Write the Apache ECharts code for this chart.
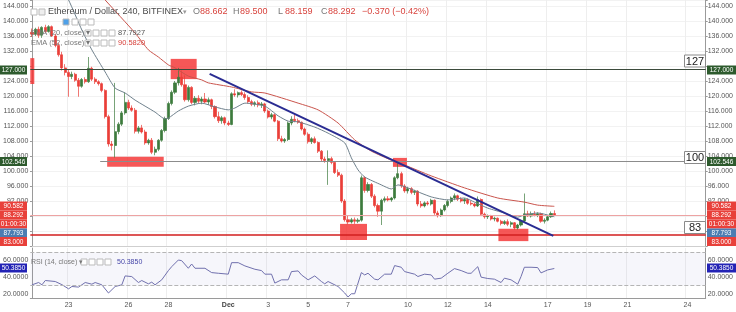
<!DOCTYPE html>
<html><head><meta charset="utf-8">
<script src="https://cdn.jsdelivr.net/npm/echarts@6/dist/echarts.min.js"></script>
<style>html,body{margin:0;padding:0;background:#fff}#c{width:736px;height:312px}</style>
</head><body><div id="c"></div>
<script>
// ---------- DATA (4h candles, ETH/USD Bitfinex, from Nov 21 04:00) ----------
const opens = [137.0,136.5,137.8,136.2,138.3,137.2,138.5,136.0,133.5,131.0,127.5,126.3,125.2,125.8,124.2,122.6,124.4,123.8,127.4,124.5,
123.8,123.3,121.5,114.5,107.2,106.8,110.5,112.5,115.5,118.3,116.8,116.2,110.6,111.5,110.4,107.5,108.2,105.0,105.8,108.2,
110.8,114.0,118.0,121.0,123.5,125.0,123.0,119.0,122.3,118.3,119.4,118.6,119.2,118.4,119.0,117.2,114.5,113.4,114.2,112.8,
112.4,120.6,120.3,120.9,120.4,119.6,118.5,117.8,118.2,117.6,117.9,116.0,114.4,115.0,113.3,108.6,108.0,108.4,112.8,113.8,
113.4,113.0,111.2,109.8,107.8,108.6,107.6,105.3,103.2,102.8,103.3,102.3,99.6,98.9,92.0,87.0,86.4,87.0,86.6,86.9,
98.2,94.8,96.4,93.3,90.8,89.3,92.2,92.6,92.3,92.8,98.2,99.3,96.0,94.7,95.3,94.3,94.6,91.2,90.7,91.5,
91.2,92.2,88.8,88.1,89.6,90.8,91.9,92.8,93.4,92.5,92.0,92.4,91.4,91.2,90.7,92.4,88.5,87.8,88.0,87.2,
87.4,86.6,86.0,86.5,85.8,86.2,84.8,85.6,86.7,88.6,88.0,88.5,88.2,88.6,86.6,86.9,87.8,88.662];
const highs = [138.0,138.2,138.5,138.6,139.0,138.9,138.8,136.6,134.2,131.8,128.5,127.0,126.5,126.2,124.8,124.8,125.0,130.4,127.8,125.0,
124.2,123.6,121.8,115.0,108.0,123.5,113.0,116.0,121.0,119.0,117.5,116.8,112.0,112.3,111.0,108.6,108.8,106.5,108.5,111.2,
114.5,118.5,121.5,124.0,127.5,126.8,125.5,122.8,122.6,120.0,120.2,119.8,120.8,119.6,119.3,117.5,115.8,114.7,114.5,113.4,
121.0,121.8,121.2,121.5,121.0,120.2,119.0,118.6,118.8,118.4,118.2,116.4,115.5,115.3,113.6,109.4,108.8,113.2,114.6,115.0,
114.0,113.2,111.6,110.3,109.0,109.2,107.9,105.6,103.8,105.5,103.8,102.6,100.4,99.3,92.5,88.0,87.5,87.6,87.4,98.8,
98.6,97.0,96.8,93.8,91.3,92.6,93.2,93.3,93.1,98.6,102.1,99.8,96.5,95.8,95.7,95.0,94.9,92.0,91.9,92.0,
92.6,92.4,89.4,90.0,91.2,92.4,93.2,94.0,93.7,93.0,92.8,92.7,92.0,91.5,93.2,92.7,88.9,88.4,88.3,87.8,
87.6,87.0,86.9,87.1,86.6,86.4,85.9,87.0,94.0,89.4,89.2,89.3,89.0,88.9,87.4,88.0,89.2,89.5];
const lows = [135.8,136.0,135.5,135.5,136.8,136.9,135.8,133.0,130.5,126.8,125.5,119.8,124.5,123.8,119.8,122.2,123.3,123.5,124.0,123.2,
122.8,121.0,114.0,106.5,105.5,103.6,109.8,112.0,115.0,116.3,115.8,110.0,110.0,110.0,107.0,107.0,104.5,104.2,105.3,107.8,
110.3,113.6,117.5,120.5,122.8,122.5,118.5,118.5,117.8,117.5,118.0,117.8,118.0,117.6,116.5,114.0,112.8,112.6,112.2,112.0,
112.2,119.8,119.6,120.0,119.0,118.0,117.3,117.2,117.0,116.8,115.5,114.0,113.8,113.0,108.0,107.6,107.5,108.0,112.2,113.0,
112.6,110.8,109.4,107.3,107.2,107.3,104.8,102.6,102.2,96.3,101.8,99.2,98.4,91.5,86.5,85.8,86.0,85.9,86.1,86.5,
94.2,94.3,92.8,90.3,87.8,85.6,91.6,91.9,91.8,92.4,97.8,95.5,94.2,94.0,93.8,93.6,90.6,90.2,90.3,90.8,
90.8,88.3,87.6,87.8,89.2,90.3,91.4,92.2,92.0,91.6,91.2,91.0,90.8,90.3,90.4,88.0,87.3,87.2,86.8,86.6,
86.3,85.5,85.6,85.3,85.0,84.3,84.4,85.2,86.4,87.8,87.6,87.9,87.7,86.2,86.0,86.6,87.5,88.159];
const closes = [136.5,137.8,136.2,138.3,137.2,138.5,136.0,133.5,131.0,127.5,126.3,125.2,125.8,124.2,122.6,124.4,123.8,127.4,124.5,123.8,
123.3,121.5,114.5,107.2,106.8,110.5,112.5,115.5,118.3,116.8,116.2,110.6,111.5,110.4,107.5,108.2,105.0,105.8,108.2,110.8,
114.0,118.0,121.0,123.5,125.0,123.0,119.0,122.3,118.3,119.4,118.6,119.2,118.4,119.0,117.2,114.5,113.4,114.2,112.8,112.4,
120.6,120.3,120.9,120.4,119.6,118.5,117.8,118.2,117.6,117.9,116.0,114.4,115.0,113.3,108.6,108.0,108.4,112.8,113.8,113.4,
113.0,111.2,109.8,107.8,108.6,107.6,105.3,103.2,102.8,103.3,102.3,99.6,98.9,92.0,87.0,86.4,87.0,86.6,86.9,98.2,
94.8,96.4,93.3,90.8,89.3,92.2,92.6,92.3,92.8,98.2,99.3,96.0,94.7,95.3,94.3,94.6,91.2,90.7,91.5,91.2,
92.2,88.8,88.1,89.6,90.8,91.9,92.8,93.4,92.5,92.0,92.4,91.4,91.2,90.7,92.4,88.5,87.8,88.0,87.2,87.4,
86.6,86.0,86.5,85.8,86.2,84.8,85.6,86.7,88.6,88.0,88.5,88.2,88.6,86.6,86.9,87.8,88.662,88.292];

const emaShortSlot  = [8,11,15,18,22,25,28,31,37,40,41,44,47,51,55,59,61,64,70,74,77,80,85,89,94,96,98,100,105,108,110,113,120,125,130,133,137,142,146,148,152,157];
const emaShortValue = [150,145.6,137.6,132.3,126.4,122.1,120.8,118.9,115.7,113.9,114.1,116.0,117.3,118.1,117.1,116.3,116.8,118.1,117.3,114.7,113.3,113.1,111.7,110.1,107.5,103.5,100.3,98.4,96.3,95.2,96.3,95.5,93.1,92.3,92.8,91.7,90.1,88.8,87.7,88.3,88.8,87.79];
const emaLongSlot  = [17,22,31,35,38,41,43,47,51,53,60,66,70,80,86,92,97,102,108,112,120,130,140,148,152,157];
const emaLongValue = [150.6,145.6,136.8,132.3,130.4,128.3,127.5,125.3,124.3,123.5,122.4,121.1,120.8,118.1,116.3,112.8,108.3,105.3,102.9,101.6,98.7,95.5,92.8,91.7,90.9,90.58];

const rsiSlot  = [0,2,3,4,7,9,11,12,14,16,18,19,21,23,25,27,28,30,32,33,35,36,37,39,41,42,44,45,47,48,49,52,54,56,59,60,62,64,67,69,70,72,73,75,77,78,80,81,83,85,87,88,89,92,94,95,96,97,99,100,101,103,104,106,108,109,111,112,115,116,118,120,121,123,125,127,129,131,132,134,135,137,139,141,142,144,146,147,148,150,152,153,155,157];
const rsiValue = [30.8,33.6,30.8,36,34.8,31,26,28.8,28.1,33.6,31.6,33.6,30.8,21,28.8,30.8,41.5,40.7,33.6,36,32,34,30.8,36.8,47.9,52.6,60.6,59.8,50.7,55.8,50.7,50.7,45.5,44.7,43.6,57.4,57.4,53.5,49.5,47.9,43.6,43.6,32.9,36.8,36.8,46.7,47.5,42.7,36.8,41.5,34.8,32,34.8,28.8,21,16.2,20.1,20.1,45.5,42.7,44.7,37.6,36.8,43.6,43.6,53.9,51.9,46.7,43.6,40.8,43.6,42.7,37.6,38.8,44.7,50.3,47.9,44.7,44.7,52.6,40,38.4,37.6,33.6,38.8,36.8,31.6,40.8,51.9,51.9,51.5,45.1,48.7,50.385];

const trendSlot  = [53.4,156.7];
const trendValue = [125.9,82.7];

const levelValues = [127, 102.546, 83, 88.292];
const levelNames  = ['127', '100', '83'];

const tickSlots  = [11,29,41,59,71,83,95,113,125,137,155,167,179,197];
const tickLabels = ['23','26','28','Dec','3','5','7','10','12','14','17','19','21','24'];

// zones (slot range, price range)
const zoneSlotFrom  = [41.7, 22.6, 92.6, 108.5, 140.2, -0.5];
const zoneSlotTo    = [49.5, 39.6, 100.7, 112.7, 149.2, 0.7];
const zonePriceTop  = [129.9, 103.8, 85.9, 103.5, 84.6, 130.1];
const zonePriceBot  = [124.5, 101.15, 81.6, 101.1, 81.3, 123.2];

// ---------- BUILD ----------
const SLOTS = 203;
const t0 = Date.UTC(2017,10,21,4);
const categories = [];
for (let k=0;k<SLOTS;k++){ categories.push(new Date(t0+k*4*3600e3).toISOString().slice(0,13)); }
const N = SLOTS;
const FONT = '"Liberation Sans", Arial, sans-serif';
const pairs = (xs, ys) => xs.map((x,k)=>[x, ys[k]]);
const candleData = opens.map((o,k)=>[o, closes[k], lows[k], highs[k]]);
const isTick = (i)=> tickSlots.indexOf(i) >= 0;

const zones = zoneSlotFrom.map((f,k)=>[{coord:[f, zonePriceTop[k]]},{coord:[zoneSlotTo[k], zonePriceBot[k]]}]);

const UP='#3d7b3d', DN='#ea3e38', TAGRED='#e8403a';

function txt(x,y,text,opt){
  opt = opt||{};
  return {type:'text', x:x, y:y, z:200, silent:true, style:Object.assign({text:text, fill:opt.fill||'#555', font:(opt.weight||'normal')+' '+(opt.size||7)+'px '+FONT,
    textAlign:opt.align||'left', align:opt.align||'left', textVerticalAlign:'middle', verticalAlign:'middle'}, opt.rich?{rich:opt.rich}:{})};
}
function tag(x,w,y,text,color){
  return [{type:'rect', z:190, silent:true, shape:{x:x, y:y-4.5, width:w, height:9}, style:{fill:color}},
          txt(x+w/2, y+0.5, text, {fill:'#fff', size:6.5, align:'center'})];
}
function box(y,text){
  return [{type:'rect', z:190, silent:true, shape:{x:684.5, y:y, width:21, height:12}, style:{fill:'#fff', stroke:'#8a8a8a', lineWidth:1}},
          txt(695, y+6.5, text, {fill:'#222', size:11, align:'center'})];
}
function sq(x,y,fill){ return {type:'rect', z:195, silent:true, shape:{x:x,y:y-3,width:6,height:6}, style:{fill:fill||'#fff', stroke:'#bbb', lineWidth:1}}; }

const g = [];
const tags = [['127.000',70,'#2d5a2d'],['102.546',161.5,'#2d5a2d'],['90.582',206,TAGRED],['88.292',215,TAGRED],['01:00:30',224,TAGRED],['87.793',233,'#4b7db2'],['83.000',241.5,TAGRED],['50.3850',268,'#2323b5']];
tags.forEach(t=>{ g.push(...tag(0,27,t[1],t[0],t[2])); g.push(...tag(707,29,t[1],t[0],t[2])); });
g.push(...box(55,levelNames[0]), ...box(151.5,levelNames[1]), ...box(221.5,levelNames[2]));
// header
g.push(sq(31,12,'#fff'), sq(39,12,'#eee'));
g.push(txt(48,12,'Ethereum / Dollar, 240, BITFINEX',{fill:'#4a4a4a',size:9}));
g.push(txt(183,12,'▾',{fill:'#999',size:7}));
const ohlc = [['O','88.662',193],['H','89.500',233],['L','88.159',278],['C','88.292',321]];
ohlc.forEach(o=>{ g.push(txt(o[2],12,o[0],{fill:'#777',size:9})); g.push(txt(o[2]+7,12,o[1],{fill:'#d8433d',size:9})); });
g.push(txt(362,12,'−0.370 (−0.42%)',{fill:'#d8433d',size:9}));
g.push(sq(63,22,'#4ea0e8'), sq(72,22), sq(80,22), sq(88,22));
g.push(txt(31,33,'EMA (20, close) ▾',{fill:'#777',size:7.5}));
[85,93,101,109].forEach(x=>g.push(sq(x,33)));
g.push(txt(118,33,'87.7927',{fill:'#555',size:7.5}));
g.push(txt(31,43,'EMA (52, close) ▾',{fill:'#777',size:7.5}));
[85,93,101,109].forEach(x=>g.push(sq(x,43)));
g.push(txt(118,43,'90.5820',{fill:'#d8433d',size:7.5}));
g.push(txt(31,262,'RSI (14, close) ▾',{fill:'#777',size:7}));
[81,89,97,105].forEach(x=>g.push(sq(x,262)));
g.push(txt(117,262,'50.3850',{fill:'#4646a8',size:7}));

const priceLabel = (v)=>(v>=92 && v%4===0 && v!==128) ? v.toFixed(3) : '';

const chart = echarts.init(document.getElementById('c'));
chart.setOption({
  animation:false,
  backgroundColor:'#fff',
  textStyle:{fontFamily:FONT},
  grid:[{left:28,right:30,top:0,height:246},{left:28,right:30,top:248,height:50}],
  xAxis:[
    {type:'category', gridIndex:0, data:categories, boundaryGap:true,
     axisLine:{show:true,lineStyle:{color:'#cfcfcf'}}, axisTick:{show:false}, axisLabel:{show:false},
     splitLine:{show:true, interval:(i)=>isTick(i), lineStyle:{color:'#eeeeee'}}},
    {type:'category', gridIndex:1, data:categories, boundaryGap:true,
     axisLine:{show:true,lineStyle:{color:'#9a9a9a'}}, axisTick:{show:false},
     axisLabel:{interval:(i)=>isTick(i), fontSize:7, color:'#555', margin:4,
       formatter:(v,i)=>{const k=tickSlots.indexOf(i); if(k<0) return ''; return tickLabels[k]==='Dec'?'{b|Dec}':tickLabels[k];},
       rich:{b:{fontSize:7,fontWeight:'bold',color:'#444'}}},
     splitLine:{show:true, interval:(i)=>isTick(i), lineStyle:{color:'#eeeeee'}}},
    {type:'value', gridIndex:0, min:-0.5, max:N-0.5, show:false},
    {type:'value', gridIndex:1, min:-0.5, max:N-0.5, show:false}
  ],
  yAxis:[
    {type:'value', gridIndex:0, position:'left', min:80, max:145.6, interval:4,
     axisLine:{show:true,lineStyle:{color:'#9a9a9a'}}, axisTick:{show:true,length:2,lineStyle:{color:'#9a9a9a'}},
     axisLabel:{fontSize:7,color:'#555',margin:2,formatter:priceLabel},
     splitLine:{show:true,lineStyle:{color:'#f2f2f2'}}},
    {type:'value', gridIndex:0, position:'right', min:80, max:145.6, interval:4,
     axisLine:{show:true,lineStyle:{color:'#9a9a9a'}}, axisTick:{show:true,length:2,lineStyle:{color:'#9a9a9a'}},
     axisLabel:{fontSize:7,color:'#555',margin:2,formatter:priceLabel},
     splitLine:{show:false}},
    {type:'value', gridIndex:1, position:'left', min:15, max:75, interval:5,
     axisLine:{show:true,lineStyle:{color:'#9a9a9a'}}, axisTick:{show:false},
     axisLabel:{fontSize:7,color:'#555',margin:2,formatter:(v)=>(v===20||v===40||v===60)?v.toFixed(4):''},
     splitLine:{show:false}},
    {type:'value', gridIndex:1, position:'right', min:15, max:75, interval:5,
     axisLine:{show:true,lineStyle:{color:'#9a9a9a'}}, axisTick:{show:false},
     axisLabel:{fontSize:7,color:'#555',margin:2,formatter:(v)=>(v===20||v===40||v===60)?v.toFixed(4):''},
     splitLine:{show:false}}
  ],
  series:[
    {type:'candlestick', xAxisIndex:0, yAxisIndex:0, data:candleData, barWidth:2.6, z:3,
     itemStyle:{color:UP,color0:DN,borderColor:UP,borderColor0:DN,borderWidth:0.7}},
    {type:'line', xAxisIndex:2, yAxisIndex:0, data:pairs(emaShortSlot,emaShortValue), symbol:'none', smooth:0.2, clip:true, z:4,
     lineStyle:{color:'#6f808c',width:1}},
    {type:'line', xAxisIndex:2, yAxisIndex:0, data:pairs(emaLongSlot,emaLongValue), symbol:'none', smooth:0.2, clip:true, z:4,
     lineStyle:{color:'#c9544c',width:1}},
    {type:'line', xAxisIndex:2, yAxisIndex:0, data:pairs(trendSlot,trendValue), symbol:'none', z:6,
     lineStyle:{color:'#2a2c92',width:2},
     markLine:{silent:true, symbol:'none', label:{show:false}, animation:false,
       data:[
         [{coord:[-0.5,levelValues[0]],lineStyle:{color:'#3b4a3b',width:1,type:'solid'}},{coord:[N-0.5,levelValues[0]]}],
         [{coord:[20.5,levelValues[1]],lineStyle:{color:'#8c8c8c',width:1,type:'solid'}},{coord:[N-0.5,levelValues[1]]}],
         [{coord:[-0.5,levelValues[2]],lineStyle:{color:'#d21e1e',width:1.5,type:'solid'}},{coord:[N-0.5,levelValues[2]]}],
         [{coord:[-0.5,levelValues[3]],lineStyle:{color:'#eda3a3',width:1,type:'solid'}},{coord:[N-0.5,levelValues[3]]}]
       ]},
     markArea:{silent:true, itemStyle:{color:'rgba(244,50,50,0.82)'}, data:zones}
    },
    {type:'line', xAxisIndex:3, yAxisIndex:2, data:pairs(rsiSlot,rsiValue), symbol:'none', z:4,
     lineStyle:{color:'#7070ad',width:1},
     markArea:{silent:true, itemStyle:{color:'rgba(130,130,200,0.07)'}, data:[[{coord:[-0.5,70]},{coord:[N-0.5,30]}]]},
     markLine:{silent:true, symbol:'none', label:{show:false},
       lineStyle:{color:'#b5b5b5',type:'dashed',width:1},
       data:[[{coord:[-0.5,70]},{coord:[N-0.5,70]}],[{coord:[-0.5,30]},{coord:[N-0.5,30]}]]}
    }
  ],
  graphic:g
});
</script></body></html>
